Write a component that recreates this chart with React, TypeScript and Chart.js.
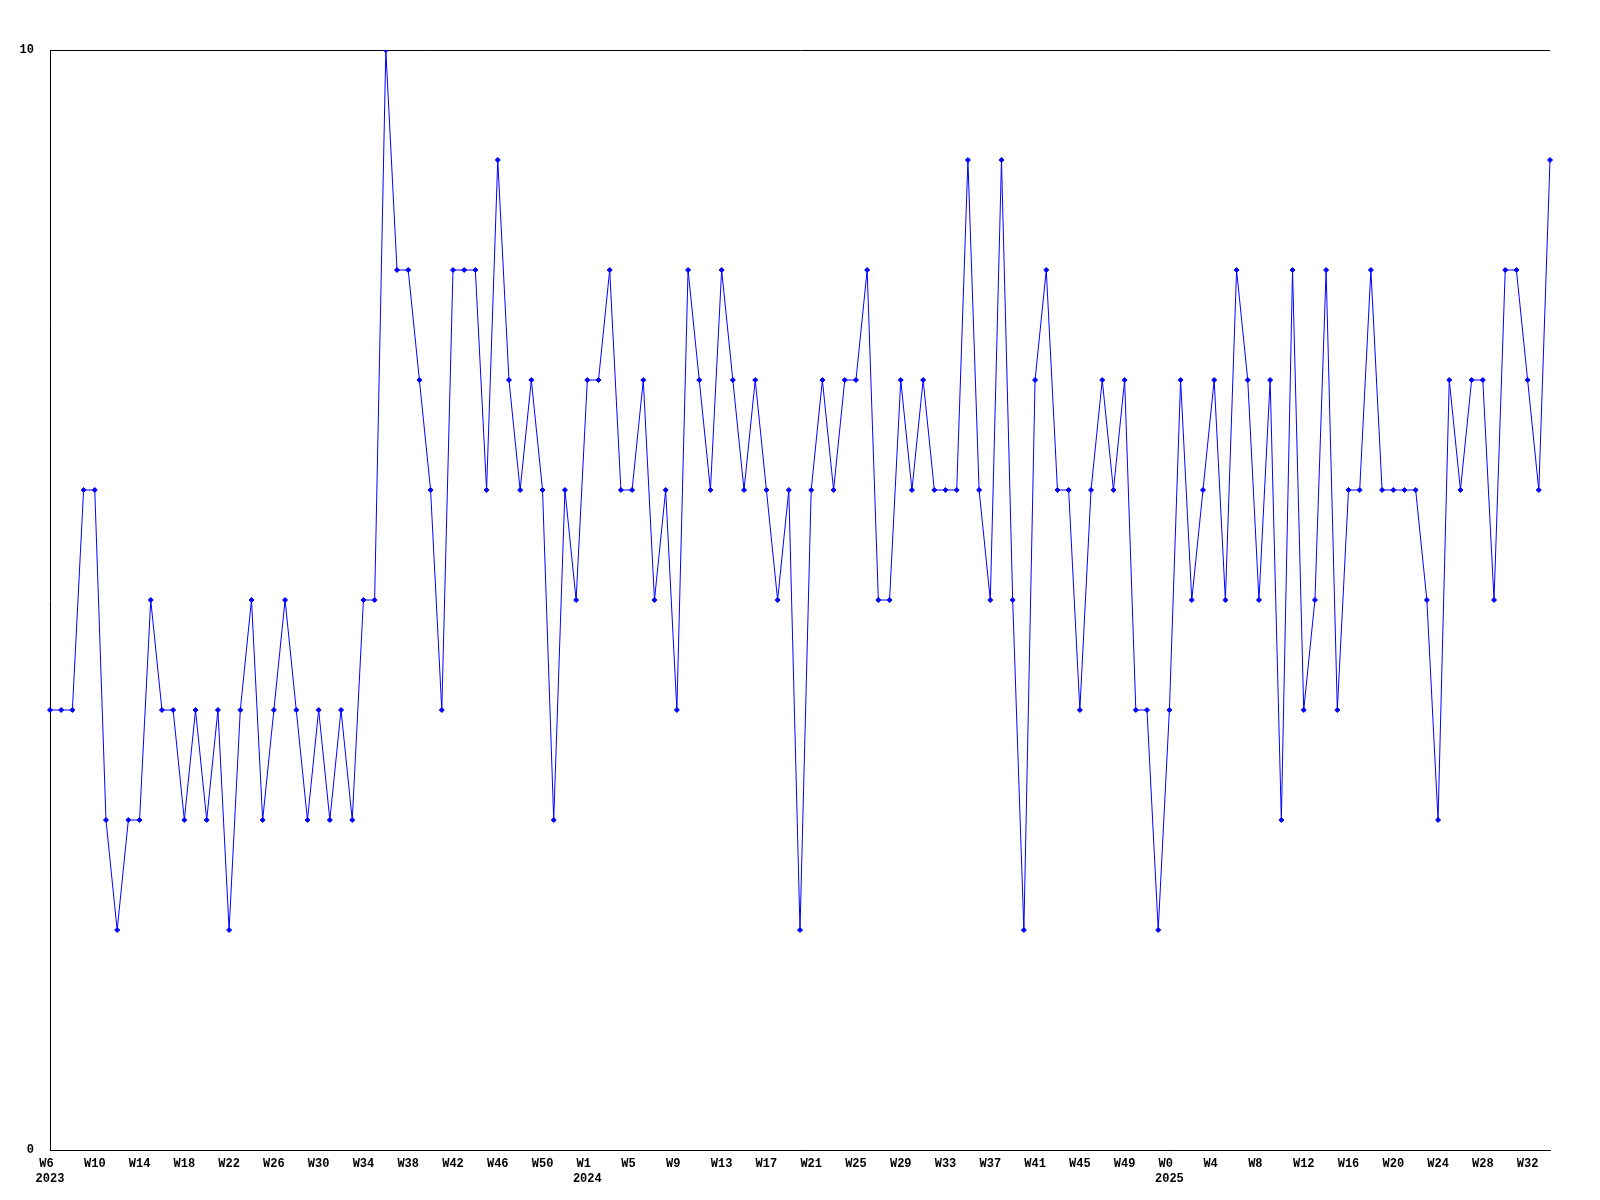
import React, { useEffect, useRef } from "react";
import { Chart, registerables } from "chart.js";

Chart.register(...registerables);

// Weekly periods shown on the x axis
const years = [2023, 2024, 2025];
const firstWeek = [6, 1, 0];
const lastWeek = [53, 52, 34];

// Weekly values, one array per year
const values2023 = [
  4, 4, 4, 6, 6, 3, 2, 3, 3, 5, 4, 4, 3, 4, 3, 4, 2, 4,
  5, 3, 4, 5, 4, 3, 4, 3, 4, 3, 5, 5, 10, 8, 8, 7, 6,
  4, 8, 8, 8, 6, 9, 7, 6, 7, 6, 3, 6, 5,
];
const values2024 = [
  7, 7, 8, 6,
  6, 7, 5, 6, 4, 8, 7, 6, 8, 7, 6, 7, 6, 5, 6, 2, 6,
  7, 6, 7, 7, 8, 5, 5, 7, 6, 7, 6, 6, 6, 9, 6, 5, 9,
  5, 2, 7, 8, 6, 6, 4, 6, 7, 6, 7, 4, 4, 2,
];
const values2025 = [
  4, 7, 5,
  6, 7, 5, 8, 7, 5, 7, 3, 8, 4, 5, 8, 4, 6, 6, 8, 6,
  6, 6, 6, 5, 3, 7, 6, 7, 7, 5, 8, 8, 7, 6, 9,
];

// y-axis range (only the ends are labelled)
const yMin = 0;
const yMax = 10;
const labelEvery = 4;

const weekLabels: string[] = [];
const weekYears: number[] = [];
years.forEach((y, k) => {
  for (let w = firstWeek[k]; w <= lastWeek[k]; w++) {
    weekLabels.push("W" + w);
    weekYears.push(y);
  }
});
const allValues = [...values2023, ...values2024, ...values2025];

export default function App() {
  const ref = useRef<HTMLCanvasElement | null>(null);

  useEffect(() => {
    document.body.style.margin = "0";
    const canvas = ref.current;
    if (!canvas) return;
    const tickFont = {
      family: "'Liberation Mono', 'DejaVu Sans Mono', monospace",
      size: 12,
      weight: "bold" as const,
      lineHeight: 1.25,
    };
    const chart = new Chart(canvas, {
      type: "line",
      data: {
        labels: weekLabels,
        datasets: [
          {
            data: allValues,
            borderColor: "#0000ff",
            backgroundColor: "#0000ff",
            borderWidth: 1,
            pointStyle: "rectRot",
            pointRadius: 2.5,
            pointBorderWidth: 1,
            pointBackgroundColor: "#0000ff",
            pointBorderColor: "#0000ff",
            tension: 0,
          },
        ],
      },
      options: {
        responsive: false,
        animation: false,
        layout: { padding: { top: 50, right: 50, left: 0, bottom: 0 } },
        plugins: { legend: { display: false }, tooltip: { enabled: false } },
        scales: {
          x: {
            type: "category",
            offset: false,
            grid: { display: false, drawTicks: false },
            border: { display: true, color: "#000000", width: 1 },
            afterFit: (scale: any) => {
              scale.height = 50;
            },
            ticks: {
              autoSkip: false,
              maxRotation: 0,
              minRotation: 0,
              padding: 6,
              color: "#000000",
              font: tickFont,
              callback: (_v: any, i: number) => {
                if (i % labelEvery !== 0) return null;
                const lbl = weekLabels[i].padEnd(3, " ");
                const isFirstOfYear = i === 0 || weekYears[i - labelEvery] !== weekYears[i];
                return isFirstOfYear ? [lbl, String(weekYears[i])] : lbl;
              },
            },
          },
          y: {
            min: yMin,
            max: yMax,
            grid: { display: true, color: "#000000", lineWidth: 1, drawTicks: false },
            border: { display: true, color: "#000000", width: 1 },
            afterFit: (scale: any) => {
              scale.width = 50;
            },
            ticks: {
              stepSize: yMax - yMin,
              padding: 16,
              color: "#000000",
              font: tickFont,
            },
          },
        },
      },
    });
    return () => chart.destroy();
  }, []);

  return (
    <div style={{ width: 1600, height: 1200, background: "#ffffff" }}>
      <canvas ref={ref} width={1600} height={1200} />
    </div>
  );
}
